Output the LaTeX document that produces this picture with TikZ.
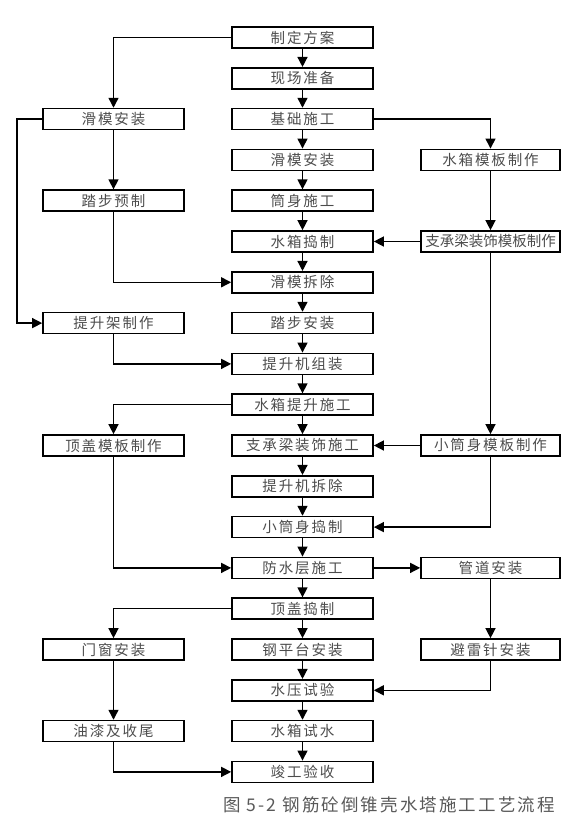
\documentclass[tikz,border=0pt]{standalone}
\usepackage{fontspec}
\setmainfont{Noto Sans CJK SC}
\newfontfamily\boxfont[LetterSpace=13]{Noto Sans CJK SC}
\newfontfamily\tightfont{Noto Sans CJK SC}
\newfontfamily\capfont[LetterSpace=12]{Noto Sans CJK SC}
\usetikzlibrary{arrows.meta}
\begin{document}
\begin{tikzpicture}[x=1pt,y=-1pt,
  box/.style={draw, line width=1.7pt, minimum width=141pt, minimum height=21pt, inner sep=0pt,
    text=black!70, font={\boxfont\fontsize{14.5pt}{15pt}\selectfont}},
  rbox/.style={box, minimum width=139pt},
  tight/.style={font={\tightfont\fontsize{14.5pt}{15pt}\selectfont}},
  conn/.style={line width=1.4pt, -{Triangle[length=10pt,width=10pt]}}]
\useasboundingbox (0,0) rectangle (571,825);
\def\cx{302.5}\def\lx{113.5}\def\rx{490.5}
% centre column
\node[box] (c0) at (\cx,37.5) {制定方案};
\node[box] (c1) at (\cx,78.3) {现场准备};
\node[box] (c2) at (\cx,119.1) {基础施工};
\node[box] (c3) at (\cx,159.9) {滑模安装};
\node[box] (c4) at (\cx,200.7) {筒身施工};
\node[box] (c5) at (\cx,241.5) {水箱捣制};
\node[box] (c6) at (\cx,282.3) {滑模拆除};
\node[box] (c7) at (\cx,323.1) {踏步安装};
\node[box] (c8) at (\cx,363.9) {提升机组装};
\node[box] (c9) at (\cx,404.7) {水箱提升施工};
\node[box] (c10) at (\cx,445.5) {支承梁装饰施工};
\node[box] (c11) at (\cx,486.3) {提升机拆除};
\node[box] (c12) at (\cx,527.1) {小筒身捣制};
\node[box] (c13) at (\cx,567.9) {防水层施工};
\node[box] (c14) at (\cx,608.7) {顶盖捣制};
\node[box] (c15) at (\cx,649.5) {钢平台安装};
\node[box] (c16) at (\cx,690.3) {水压试验};
\node[box] (c17) at (\cx,731.1) {水箱试水};
\node[box] (c18) at (\cx,771.9) {竣工验收};
% left column
\node[box] (l2) at (\lx,119.1) {滑模安装};
\node[box] (l4) at (\lx,200.7) {踏步预制};
\node[box] (l7) at (\lx,323.1) {提升架制作};
\node[box] (l10) at (\lx,445.5) {顶盖模板制作};
\node[box] (l15) at (\lx,649.5) {门窗安装};
\node[box] (l17) at (\lx,731.1) {油漆及收尾};
% right column
\node[rbox] (r3) at (\rx,159.9) {水箱模板制作};
\node[rbox,tight] (r5) at (\rx,241.5) {支承梁装饰模板制作};
\node[rbox] (r10) at (\rx,445.5) {小筒身模板制作};
\node[rbox] (r13) at (\rx,567.9) {管道安装};
\node[rbox] (r15) at (\rx,649.5) {避雷针安装};
\coordinate (lft) at (17,0);
% caption
\node[text=black!65, font={\capfont\fontsize{17.5pt}{18pt}\selectfont}, inner sep=0pt] (cap) at (389,805) {图 5-2 钢筋砼倒锥壳水塔施工工艺流程};
% centre chain
\foreach \a/\b in {c0/c1,c1/c2,c2/c3,c3/c4,c4/c5,c5/c6,c6/c7,c7/c8,c8/c9,c9/c10,c10/c11,c11/c12,c12/c13,c13/c14,c14/c15,c15/c16,c16/c17,c17/c18}
  \draw[conn] (\a) -- (\b);
% left connectors
\draw[conn] (c0.west) -| (l2.north);
\draw[conn] (l2) -- (l4);
\draw[conn] (l2.west) -- (l2.west -| lft) |- (l7.west);
\draw[conn] (l4.south) |- (c6.west);
\draw[conn] (l7.south) |- (c8.west);
\draw[conn] (c9.west) -| (l10.north);
\draw[conn] (l10.south) |- (c13.west);
\draw[conn] (c14.west) -| (l15.north);
\draw[conn] (l15) -- (l17);
\draw[conn] (l17.south) |- (c18.west);
% right connectors
\draw[conn] (c2.east) -| (r3.north);
\draw[conn] (r3) -- (r5);
\draw[conn] (r5.west) -- (c5.east);
\draw[conn] (r5) -- (r10);
\draw[conn] (r10.west) -- (c10.east);
\draw[conn] (r10.south) |- (c12.east);
\draw[conn] (c13.east) -- (r13.west);
\draw[conn] (r13) -- (r15);
\draw[conn] (r15.south) |- (c16.east);
\end{tikzpicture}
\end{document}
